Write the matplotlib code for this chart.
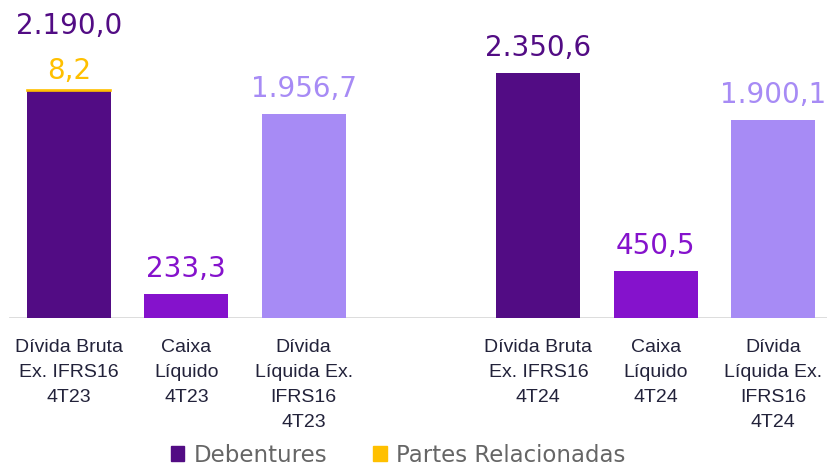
import matplotlib.pyplot as plt
from matplotlib.patches import Patch

categories = ["Dívida Bruta\nEx. IFRS16\n4T23", "Caixa\nLíquido\n4T23", "Dívida\nLíquida Ex.\nIFRS16\n4T23",
              "Dívida Bruta\nEx. IFRS16\n4T24", "Caixa\nLíquido\n4T24", "Dívida\nLíquida Ex.\nIFRS16\n4T24"]
positions = [0, 1, 2, 4, 5, 6]
debentures = [2181.8, 233.3, 1956.7, 2350.6, 450.5, 1900.1]
partes = [8.2, 0, 0, 0, 0, 0]
labels = ["2.190,0", "233,3", "1.956,7", "2.350,6", "450,5", "1.900,1"]
partes_label = "8,2"

dark = "#520C84"
mid = "#8512CC"
light = "#A78BF5"
yellow = "#FFC000"
bar_colors = [dark, mid, light, dark, mid, light]

fig = plt.figure(figsize=(8.28, 4.65), dpi=100)
ax = fig.add_axes([0, (465 - 318) / 465, 1, 318 / 465])

ax.bar(positions, debentures, width=0.716, color=bar_colors)
ax.bar(positions, partes, bottom=debentures, width=0.716, color=yellow,
       edgecolor=yellow, linewidth=[1.2 if p else 0 for p in partes])

ax.set_xlim(-69 / 117.33, 6 + (828 - 773) / 117.33)
ax.set_ylim(0, 3052)
ax.axhline(0, xmin=10 / 828, xmax=1, color="#D9D9D9", linewidth=2, zorder=0)

for i, (x, v, lab) in enumerate(zip(positions, debentures, labels)):
    top = v + partes[i]
    off = 56 if partes[i] else 17
    ax.annotate(lab, (x, top), xytext=(0, off), textcoords="offset pixels",
                ha="center", va="baseline", fontsize=20, color=bar_colors[i],
                family="DejaVu Sans")
ax.annotate(partes_label, (positions[0], debentures[0] + partes[0]), xytext=(0, 11),
            textcoords="offset pixels", ha="center", va="baseline", fontsize=20,
            color=yellow, family="DejaVu Sans")

ax.set_xticks(positions)
ax.set_xticklabels(categories, fontsize=14, color="#22223A", family="Liberation Sans",
                   linespacing=1.63)
ax.tick_params(axis="x", length=0, pad=15)
ax.set_yticks([])
for s in ax.spines.values():
    s.set_visible(False)

handles = [Patch(color=dark, label="Debentures"), Patch(color=yellow, label="Partes Relacionadas")]
fig.legend(handles=handles, loc="center", bbox_to_anchor=(398 / 828, 10 / 465), ncol=2,
           frameon=False, handlelength=0.6, handleheight=0.6, handletextpad=0.4,
           columnspacing=2.0, prop={"family": "DejaVu Sans", "size": 16.5}, labelcolor="#666666")

fig.savefig("out.png", dpi=100)
